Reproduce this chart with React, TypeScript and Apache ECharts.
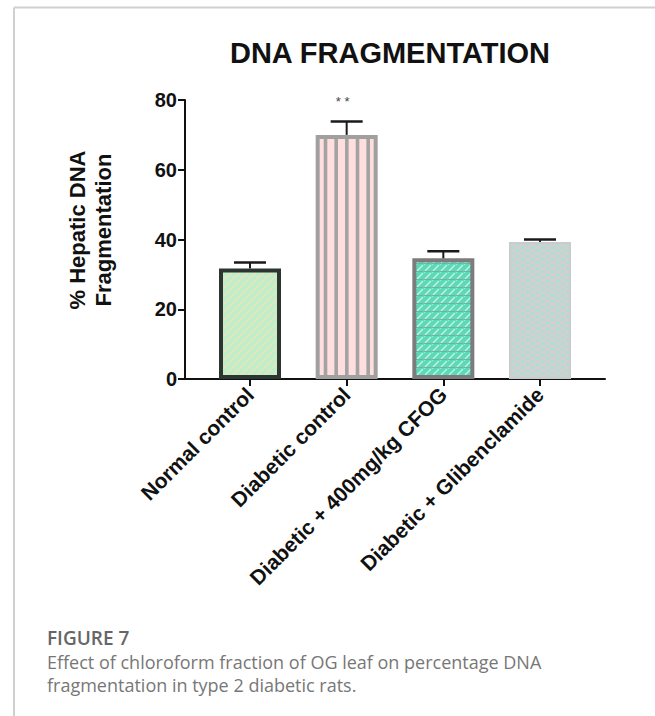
import React, { useEffect, useRef } from "react";
import * as echarts from "echarts";

const categories = [
  "Normal control",
  "Diabetic control",
  "Diabetic + 400mg/kg CFOG",
  "Diabetic + Glibenclamide",
];
const means = [31.7, 70.0, 34.6, 39.3];
const errors = [1.7, 3.8, 2.0, 0.7];
const marks = ["", "**", "", ""];
const yMin = 0;
const yMax = 80;
const yInterval = 20;
const chartTitle = "DNA FRAGMENTATION";
const yNameLines = ["% Hepatic DNA", "Fragmentation"];
const captionHead = "FIGURE 7";
const captionLines = [
  "Effect of chloroform fraction of OG leaf on percentage DNA",
  "fragmentation in type 2 diabetic rats.",
];

function makePattern(w: number, h: number, draw: (ctx: CanvasRenderingContext2D) => void) {
  const c = document.createElement("canvas");
  c.width = w;
  c.height = h;
  const ctx = c.getContext("2d") as CanvasRenderingContext2D;
  draw(ctx);
  return { image: c, repeat: "repeat", imageWidth: w, imageHeight: h } as any;
}

export default function App() {
  const ref = useRef<HTMLDivElement>(null);
  useEffect(() => {
    document.body.style.margin = "0";
    if (!ref.current) return;
    const chart = echarts.init(ref.current, undefined, { renderer: "svg" });

    const p1 = makePattern(8, 8, (ctx) => {
      ctx.fillStyle = "#bdefcd";
      ctx.fillRect(0, 0, 8, 8);
      ctx.strokeStyle = "#e3e5bb";
      ctx.lineWidth = 2;
      ctx.beginPath();
      ctx.moveTo(-4, 4); ctx.lineTo(4, -4);
      ctx.moveTo(0, 8); ctx.lineTo(8, 0);
      ctx.moveTo(4, 12); ctx.lineTo(12, 4);
      ctx.stroke();
    });
    const p2 = makePattern(32, 4, (ctx) => {
      ctx.fillStyle = "#ffdede";
      ctx.fillRect(0, 0, 32, 4);
      ctx.fillStyle = "#a3a3a3";
      [5.5, 16.17, 26.83].forEach((cx) => ctx.fillRect(cx - 1.8, 0, 3.6, 4));
    });
    const p3 = makePattern(8, 8, (ctx) => {
      ctx.fillStyle = "#5cdab8";
      ctx.fillRect(0, 0, 8, 8);
      ctx.strokeStyle = "#b6f3e2";
      ctx.lineWidth = 1.6;
      ctx.beginPath();
      ctx.moveTo(-4, 4); ctx.lineTo(4, -4);
      ctx.moveTo(1, 7); ctx.lineTo(7, 1);
      ctx.moveTo(4, 12); ctx.lineTo(12, 4);
      ctx.stroke();
      ctx.strokeStyle = "#7f9f95";
      ctx.lineWidth = 0.8;
      ctx.beginPath();
      ctx.moveTo(0, 7.6); ctx.lineTo(8, 7.6);
      ctx.stroke();
    });
    const p4 = makePattern(10, 6, (ctx) => {
      ctx.fillStyle = "#d0d0d0";
      ctx.fillRect(0, 0, 10, 6);
      ctx.fillStyle = "#9ee3d3";
      ctx.fillRect(1, 0.5, 3.5, 2);
      ctx.fillRect(6, 3.5, 3.5, 2);
    });

    const fills = [p1, p2, p3, p4];
    const borders = ["#2d3530", "#a0a0a0", "#7c7c7c", "#cbcbcb"];
    const borderWidths = [4, 4, 4, 2];

    const font = "'Liberation Sans', Arial, sans-serif";

    const option: any = {
      animation: false,
      backgroundColor: "#ffffff",
      title: {
        text: chartTitle,
        left: 390,
        top: 38,
        textAlign: "center",
        padding: 0,
        textStyle: { fontFamily: font, fontWeight: "bold", fontSize: 29, color: "#111" },
      },
      grid: [
        { left: 201.67, right: 66.67, top: 100, bottom: 337 },
        { left: 185, right: 50, top: 100, bottom: 337 },
      ],
      xAxis: [
        {
          type: "category",
          gridIndex: 0,
          data: categories,
          axisLine: { show: true, lineStyle: { color: "#111", width: 2 } },
          axisTick: { show: true, alignWithLabel: true, length: 7, lineStyle: { color: "#111", width: 2 } },
          axisLabel: {
            rotate: 45,
            interval: 0,
            margin: 12,
            fontFamily: font,
            fontWeight: "bold",
            fontSize: 21,
            color: "#111",
          },
          splitLine: { show: false },
        },
        {
          type: "value",
          gridIndex: 1,
          min: 0,
          max: 1,
          axisLine: { show: true, lineStyle: { color: "#111", width: 2 } },
          axisTick: { show: false },
          axisLabel: { show: false },
          splitLine: { show: false },
        },
      ],
      yAxis: [
        { type: "value", gridIndex: 0, min: yMin, max: yMax, interval: yInterval, show: false },
        {
          type: "value",
          gridIndex: 1,
          min: yMin,
          max: yMax,
          interval: yInterval,
          axisLine: { show: true, lineStyle: { color: "#111", width: 2 } },
          axisTick: { show: true, length: 7, lineStyle: { color: "#111", width: 2 } },
          axisLabel: { margin: 8, fontFamily: font, fontWeight: "bold", fontSize: 20, color: "#111" },
          splitLine: { show: false },
        },
      ],
      series: [
        {
          type: "bar",
          xAxisIndex: 0,
          yAxisIndex: 0,
          barWidth: 62,
          data: means.map((v, i) => ({
            value: v,
            itemStyle: { color: fills[i], borderColor: borders[i], borderWidth: borderWidths[i] },
          })),
          z: 2,
        },
        {
          type: "custom",
          xAxisIndex: 0,
          yAxisIndex: 0,
          z: 3,
          data: means.map((v, i) => [i, v, errors[i]]),
          renderItem: (params: any, api: any) => {
            const i = api.value(0);
            const m = api.value(1);
            const e = api.value(2);
            const a = api.coord([i, m]);
            const b = api.coord([i, m + e]);
            const half = 16;
            const children: any[] = [
              { type: "line", shape: { x1: a[0], y1: a[1], x2: b[0], y2: b[1] }, style: { stroke: "#1a1a1a", lineWidth: 2 } },
              { type: "line", shape: { x1: b[0] - half, y1: b[1], x2: b[0] + half, y2: b[1] }, style: { stroke: "#1a1a1a", lineWidth: 2.5 } },
            ];
            const mk = marks[params.dataIndex];
            if (mk) {
              children.push({
                type: "text",
                style: {
                  text: mk.split("").join(" "),
                  x: b[0] - 4,
                  y: b[1] - 20,
                  align: "center",
                  verticalAlign: "middle",
                  fontSize: 13,
                  fontFamily: font,
                  fill: "#444",
                },
              });
            }
            return { type: "group", children };
          },
        },
      ],
      graphic: [
        { type: "line", shape: { x1: 14, y1: 7.5, x2: 655, y2: 7.5 }, style: { stroke: "#d0d0d0", lineWidth: 2 } },
        { type: "line", shape: { x1: 14, y1: 7.5, x2: 14, y2: 716 }, style: { stroke: "#d0d0d0", lineWidth: 2 } },
        {
          type: "text",
          x: 90,
          y: 230,
          rotation: Math.PI / 2,
          style: {
            text: yNameLines.join("\n"),
            align: "center",
            verticalAlign: "middle",
            fontFamily: font,
            fontWeight: "bold",
            fontSize: 22,
            lineHeight: 26,
            fill: "#111",
          },
        },
        {
          type: "text",
          x: 47,
          y: 628,
          style: { text: captionHead, fontFamily: "'Open Sans', sans-serif", fontWeight: 600, fontSize: 19, fill: "#666" },
        },
        {
          type: "text",
          x: 47,
          y: 650,
          style: {
            text: captionLines.join("\n"),
            fontFamily: "'Open Sans', sans-serif",
            fontSize: 18,
            lineHeight: 23,
            fill: "#777",
          },
        },
      ],
    };
    chart.setOption(option);
    return () => chart.dispose();
  }, []);
  return <div ref={ref} style={{ width: 655, height: 716 }} />;
}
